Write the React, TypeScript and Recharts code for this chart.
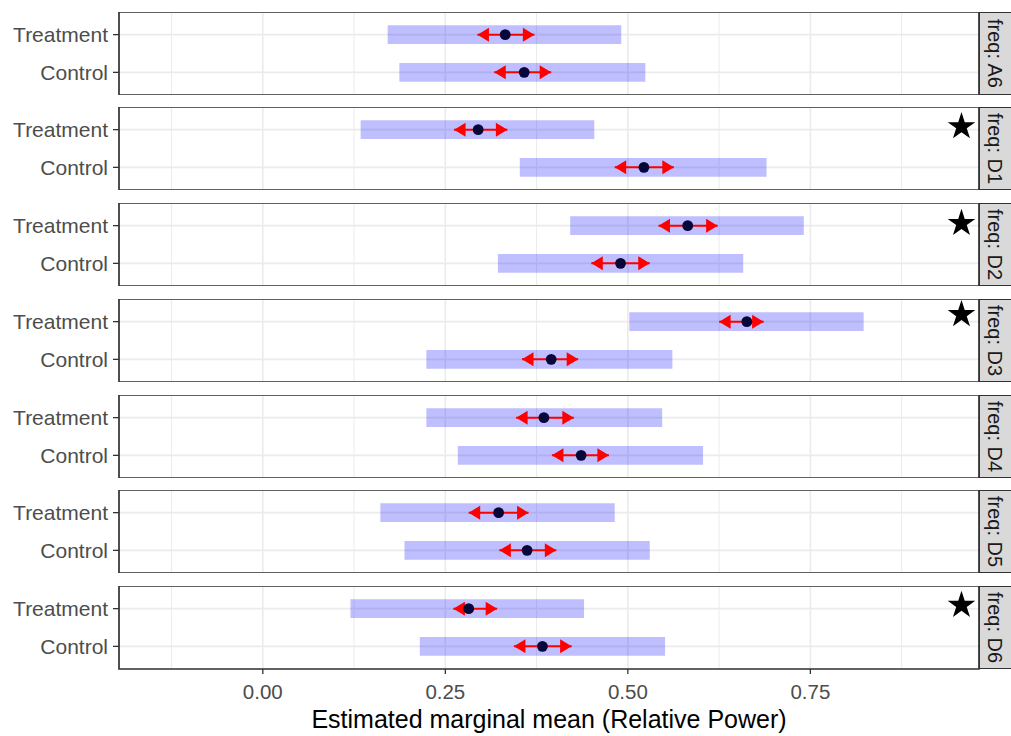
import React from 'react';
import {
  ComposedChart,
  XAxis,
  YAxis,
  CartesianGrid,
  ReferenceArea,
  ReferenceLine,
  Scatter,
} from 'recharts';

// ---------- data ----------
const PANELS = ['A6', 'D1', 'D2', 'D3', 'D4', 'D5', 'D6'];
const ROW_LABELS = ['Control', 'Treatment']; // y = 1, 2

const TREAT_EMMEAN = [0.332, 0.295, 0.582, 0.663, 0.385, 0.323, 0.282];
const TREAT_LCL = [0.171, 0.134, 0.421, 0.502, 0.224, 0.161, 0.12];
const TREAT_UCL = [0.491, 0.454, 0.741, 0.823, 0.547, 0.482, 0.44];
const TREAT_ARROW_LO = [0.294, 0.262, 0.542, 0.625, 0.347, 0.282, 0.261];
const TREAT_ARROW_HI = [0.372, 0.335, 0.623, 0.686, 0.426, 0.364, 0.321];

const CTRL_EMMEAN = [0.358, 0.522, 0.49, 0.395, 0.436, 0.362, 0.383];
const CTRL_LCL = [0.187, 0.352, 0.322, 0.224, 0.267, 0.194, 0.215];
const CTRL_UCL = [0.524, 0.69, 0.658, 0.561, 0.603, 0.53, 0.551];
const CTRL_ARROW_LO = [0.317, 0.482, 0.45, 0.355, 0.396, 0.324, 0.344];
const CTRL_ARROW_HI = [0.395, 0.563, 0.53, 0.432, 0.474, 0.402, 0.423];

// significance star (x, y in data units); null = no star
const STAR_X = 0.957;
const STAR_Y: (number | null)[] = [null, 2.08, 2.06, 2.19, null, null, 2.09];

const X_TICKS = [0, 0.25, 0.5, 0.75];
const X_TICK_LABELS = ['0.00', '0.25', '0.50', '0.75'];
const X_MINOR_TICKS = [-0.125, 0.125, 0.375, 0.625, 0.875];
const X_DOMAIN: [number, number] = [-0.197, 0.981];
const Y_DOMAIN: [number, number] = [0.4, 2.6];
const X_TITLE = 'Estimated marginal mean (Relative Power)';

// ---------- style ----------
const FONT = '"Liberation Sans", Arial, Helvetica, sans-serif';
const PANEL_TOPS = [12, 107, 203, 299, 395, 490, 586];
const PANEL_H = 83;
const BAR_HALF = 0.25;
const GRID = '#EBEBEB';
const DARK = '#333333';

const ArrowHead = (props: any) => {
  const { cx, cy, payload } = props;
  if (cx == null || cy == null) return null;
  const L = 11.5;
  const H = 7;
  const s = payload.dir < 0 ? 1 : -1;
  const d = `M${cx},${cy} L${cx + s * L},${cy - H} L${cx + s * L},${cy + H} Z`;
  return <path d={d} fill="#FF0000" stroke="none" />;
};

const MeanDot = (props: any) => {
  const { cx, cy } = props;
  if (cx == null || cy == null) return null;
  return <circle cx={cx} cy={cy} r={5.4} fill="#07073A" />;
};

const Star = (props: any) => {
  const { cx, cy } = props;
  if (cx == null || cy == null) return null;
  const R = 14.5;
  const r = R * 0.382;
  const pts: string[] = [];
  for (let i = 0; i < 10; i++) {
    const rad = i % 2 === 0 ? R : r;
    const a = -Math.PI / 2 + (i * Math.PI) / 5;
    pts.push(`${cx + rad * Math.cos(a)},${cy + rad * Math.sin(a)}`);
  }
  return <polygon points={pts.join(' ')} fill="#000000" />;
};

function Panel({ i, last }: { i: number; last: boolean }) {
  const rows = [
    {
      y: 2,
      mean: TREAT_EMMEAN[i],
      lcl: TREAT_LCL[i],
      ucl: TREAT_UCL[i],
      lo: TREAT_ARROW_LO[i],
      hi: TREAT_ARROW_HI[i],
    },
    {
      y: 1,
      mean: CTRL_EMMEAN[i],
      lcl: CTRL_LCL[i],
      ucl: CTRL_UCL[i],
      lo: CTRL_ARROW_LO[i],
      hi: CTRL_ARROW_HI[i],
    },
  ];
  const meanPts = rows.map((r) => ({ x: r.mean, y: r.y }));
  const headPts = rows.flatMap((r) => [
    { x: r.lo, y: r.y, dir: -1 },
    { x: r.hi, y: r.y, dir: 1 },
  ]);
  const starPts = STAR_Y[i] != null ? [{ x: STAR_X, y: STAR_Y[i] as number }] : [];
  const axisH = last ? 736 - PANEL_TOPS[i] - PANEL_H : 0;

  return (
    <ComposedChart
      width={1011}
      height={PANEL_H + axisH}
      margin={{ top: 0, right: 32, bottom: 0, left: 0 }}
    >
      <XAxis
        xAxisId="minor"
        type="number"
        dataKey="x"
        domain={X_DOMAIN}
        allowDataOverflow
        ticks={X_MINOR_TICKS}
        hide
      />
      <XAxis
        type="number"
        dataKey="x"
        domain={X_DOMAIN}
        allowDataOverflow
        ticks={X_TICKS}
        interval={0}
        hide={!last}
        height={axisH}
        axisLine={false}
        tickSize={5}
        tickMargin={10}
        tickLine={{ stroke: DARK, strokeWidth: 1.3 }}
        tick={{ fill: '#4D4D4D', fontSize: 20.5, fontFamily: FONT }}
        tickFormatter={(v: number) => X_TICK_LABELS[X_TICKS.indexOf(v)] ?? String(v)}
        label={{
          value: X_TITLE,
          position: 'insideBottom',
          offset: 8,
          fill: '#000000',
          fontSize: 25,
          fontFamily: FONT,
        }}
      />
      <YAxis
        type="number"
        dataKey="y"
        domain={Y_DOMAIN}
        allowDataOverflow
        ticks={[1, 2]}
        interval={0}
        width={119}
        axisLine={false}
        tickSize={6}
        tickMargin={5}
        tickLine={{ stroke: DARK, strokeWidth: 1.3 }}
        tick={{ fill: '#4D4D4D', fontSize: 21, fontFamily: FONT }}
        tickFormatter={(v: number) => ROW_LABELS[v - 1]}
      />
      <CartesianGrid
        xAxisId="minor"
        horizontal={false}
        stroke={GRID}
        strokeWidth={1}
      />
      <CartesianGrid stroke={GRID} strokeWidth={1.6} />
      {rows.map((r) => (
        <ReferenceArea
          key={'ci' + r.y}
          x1={r.lcl}
          x2={r.ucl}
          y1={r.y - BAR_HALF}
          y2={r.y + BAR_HALF}
          fill="#0000FF"
          fillOpacity={0.25}
          stroke="none"
        />
      ))}
      {rows.map((r) => (
        <ReferenceLine
          key={'ar' + r.y}
          segment={[
            { x: r.lo, y: r.y },
            { x: r.hi, y: r.y },
          ]}
          stroke="#FF0000"
          strokeWidth={2}
        />
      ))}
      <ReferenceArea
        x1={X_DOMAIN[0]}
        x2={X_DOMAIN[1]}
        y1={Y_DOMAIN[0]}
        y2={Y_DOMAIN[1]}
        fill="none"
        stroke={DARK}
        strokeWidth={1.7}
      />
      <Scatter data={headPts} shape={<ArrowHead />} isAnimationActive={false} />
      <Scatter data={meanPts} shape={<MeanDot />} isAnimationActive={false} />
      {starPts.length > 0 && (
        <Scatter data={starPts} shape={<Star />} isAnimationActive={false} />
      )}
    </ComposedChart>
  );
}

export default function App() {
  return (
    <div
      style={{
        position: 'absolute',
        left: 0,
        top: 0,
        width: 1011,
        height: 736,
        background: '#FFFFFF',
        fontFamily: FONT,
        overflow: 'hidden',
      }}
    >
      {PANELS.map((p, i) => (
        <div key={p} style={{ position: 'absolute', left: 0, top: PANEL_TOPS[i] }}>
          <Panel i={i} last={i === PANELS.length - 1} />
        </div>
      ))}
      {PANELS.map((p, i) => (
        <div
          key={'strip' + p}
          style={{
            position: 'absolute',
            left: 979,
            top: PANEL_TOPS[i],
            width: 32,
            height: PANEL_H,
            boxSizing: 'border-box',
            background: '#D9D9D9',
            borderTop: `1.7px solid ${DARK}`,
            borderBottom: `1.7px solid ${DARK}`,
            borderLeft: `1.7px solid ${DARK}`,
            display: 'flex',
            alignItems: 'center',
            justifyContent: 'center',
            paddingRight: 2,
          }}
        >
          <span
            style={{
              writingMode: 'vertical-rl',
              fontSize: 20,
              color: '#1A1A1A',
              fontFamily: FONT,
              lineHeight: 1,
              whiteSpace: 'nowrap',
            }}
          >
            {'freq: ' + p}
          </span>
        </div>
      ))}
    </div>
  );
}
